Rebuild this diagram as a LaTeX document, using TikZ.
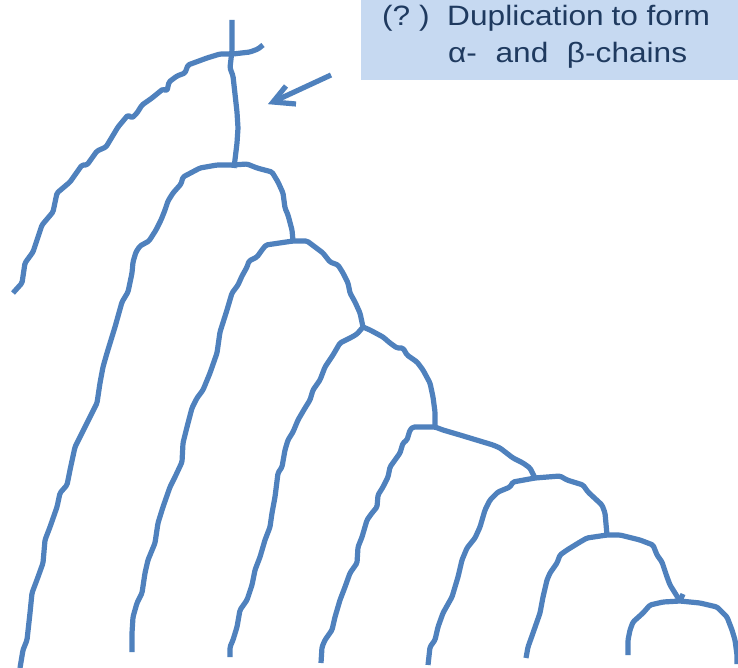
\documentclass[tikz,border=0pt]{standalone}
\usepackage{fontspec}
\setmainfont{Liberation Sans}
\newfontfamily\labelfont[FakeStretch=1.13]{Liberation Sans}
\usetikzlibrary{calc}
\begin{document}
\begin{tikzpicture}[x=1pt,y=-1pt,
  stroke/.style={draw=treeblue,line width=5.2pt,line join=round,line cap=butt,rounded corners=1.5pt},
  arrowline/.style={draw=treeblue,line width=5.2pt,line cap=butt,line join=miter},
  labeltext/.style={font=\labelfont\fontsize{28}{32}\selectfont,text=labelcol,inner sep=0pt,anchor=base west}]
\definecolor{treeblue}{HTML}{4F81BD}
\definecolor{boxfill}{HTML}{C6D9F1}
\definecolor{labelcol}{HTML}{1F3A5F}
\useasboundingbox (0,0) rectangle (738,668);
\fill[white] (0,0) rectangle (738,668);
% label box
\fill[boxfill] (361,0) rectangle (738,80);
\node[labeltext] (l1) at (382,26) {(?\ )\ \ Duplication\kern-1pt\ to form};
\node[labeltext] (l2) at (448,63) {α-\ \ \kern1pt and\ \ \kern1pt β-chains};
% arrow
\coordinate (atail) at (331,75);
\coordinate (atip) at (273,102);
\draw[arrowline] (atail) -- ($(atip)+(4,-2)$);
\draw[arrowline] (286,86) -- (atip) -- (296,104);
% junction coordinates
\coordinate (j1) at (233,165);
\coordinate (j2) at (293,241);
\coordinate (j3) at (363,327);
\coordinate (j4) at (435,427);
\coordinate (j5) at (535,478);
\coordinate (j6) at (607,535);
\coordinate (j7) at (680,601);
% top-left arc
\draw[stroke] (13,293) -- (22,283) -- (25,263) -- (33,252) -- (42,225) -- (53,212) -- (57,193) -- (70,182) -- (82,165) -- (87,165) -- (97,151) -- (106,147) -- (118,127) -- (128,115) -- (132,118) -- (137,113) -- (142,105) -- (152,98) -- (163,89) -- (167,91) -- (169,82) -- (177,76) -- (185,73) -- (188,65) -- (207,58) -- (220,54) -- (233,54) -- (250,52) -- (258,49) -- (263,45);
% root
\draw[stroke] (232,20) -- (232,50) -- (230,68) -- (233,76) -- (237,112) -- (238,128) -- (237,143) -- (234,168);
% level 1
\draw[stroke] (20,668) -- (23,650) -- (27,640) -- (30,613) -- (32,593) -- (38,577) -- (43,563) -- (45,540) -- (50,527) -- (57,507) -- (60,493) -- (67,485) -- (70,470) -- (75,447) -- (80,437) -- (85,427) -- (90,417) -- (97,403) -- (100,383) -- (103,367) -- (107,353) -- (115,327) -- (122,302) -- (128,292) -- (132,273) -- (133,262) -- (136,252) -- (140,246) -- (149,241) -- (156,230) -- (161,220) -- (165,210) -- (168,201) -- (173,193) -- (181,184) -- (183,177) -- (200,168) -- (217,165) -- (j1) -- (247,164) -- (257,168) -- (272,172) -- (278,182) -- (283,193) -- (285,208) -- (288,215) -- (292,230) -- (j2);
% level 2
\draw[stroke] (132,652) -- (132,633) -- (133,617) -- (137,603) -- (142,593) -- (145,573) -- (148,560) -- (155,543) -- (158,523) -- (163,507) -- (170,487) -- (175,477) -- (182,462) -- (183,443) -- (187,427) -- (192,408) -- (197,398) -- (203,390) -- (210,373) -- (217,353) -- (220,332) -- (227,310) -- (232,293) -- (238,285) -- (242,276) -- (247,267) -- (249,261) -- (257,257) -- (262,250) -- (266,245) -- (j2) -- (307,241) -- (315,247) -- (323,253) -- (330,262) -- (338,265) -- (343,273) -- (348,283) -- (350,293) -- (355,302) -- (360,313) -- (j3);
% level 3
\draw[stroke] (230,657) -- (230,647) -- (233,640) -- (237,627) -- (240,610) -- (247,600) -- (252,585) -- (255,570) -- (260,557) -- (265,540) -- (270,527) -- (272,513) -- (275,497) -- (278,473) -- (282,467) -- (285,450) -- (288,440) -- (293,432) -- (298,420) -- (305,408) -- (310,400) -- (313,390) -- (320,380) -- (325,367) -- (333,355) -- (340,343) -- (352,337) -- (357,334) -- (j3) -- (370,330) -- (383,337) -- (390,343) -- (397,348) -- (403,348) -- (407,355) -- (417,362) -- (423,370) -- (430,383) -- (433,397) -- (435,412) -- (j4);
% level 4
\draw[stroke] (321,663) -- (322,647) -- (325,640) -- (332,630) -- (335,617) -- (340,600) -- (345,587) -- (350,573) -- (357,563) -- (358,547) -- (362,537) -- (367,520) -- (372,513) -- (377,507) -- (378,495) -- (383,487) -- (388,477) -- (390,467) -- (395,460) -- (400,453) -- (403,443) -- (407,440) -- (410,430) -- (413,427) -- (j4) -- (443,430) -- (460,435) -- (493,445) -- (500,448) -- (513,458) -- (523,463) -- (530,468) -- (j5);
% level 5
\draw[stroke] (428,665) -- (430,647) -- (435,640) -- (438,627) -- (443,613) -- (452,597) -- (458,577) -- (462,560) -- (467,548) -- (475,538) -- (480,527) -- (485,510) -- (490,500) -- (498,492) -- (510,487) -- (513,482) -- (j5) -- (560,476) -- (567,480) -- (583,485) -- (588,492) -- (602,505) -- (605,513) -- (j6);
% level 6
\draw[stroke] (526,658) -- (528,647) -- (533,633) -- (540,613) -- (543,597) -- (547,580) -- (550,573) -- (557,563) -- (560,555) -- (567,550) -- (580,542) -- (587,538) -- (j6) -- (620,535) -- (640,540) -- (653,545) -- (657,555) -- (662,562) -- (667,577) -- (670,585) -- (675,593) -- (j7);
\draw[stroke] (j7) -- (683,594);
% level 7
\draw[stroke] (628,655) -- (628,640) -- (630,630) -- (633,622) -- (643,613) -- (650,605) -- (663,602) -- (j7) -- (700,603) -- (717,607) -- (727,617) -- (732,630) -- (735,640) -- (737,655) -- (737,664);
\end{tikzpicture}
\end{document}
